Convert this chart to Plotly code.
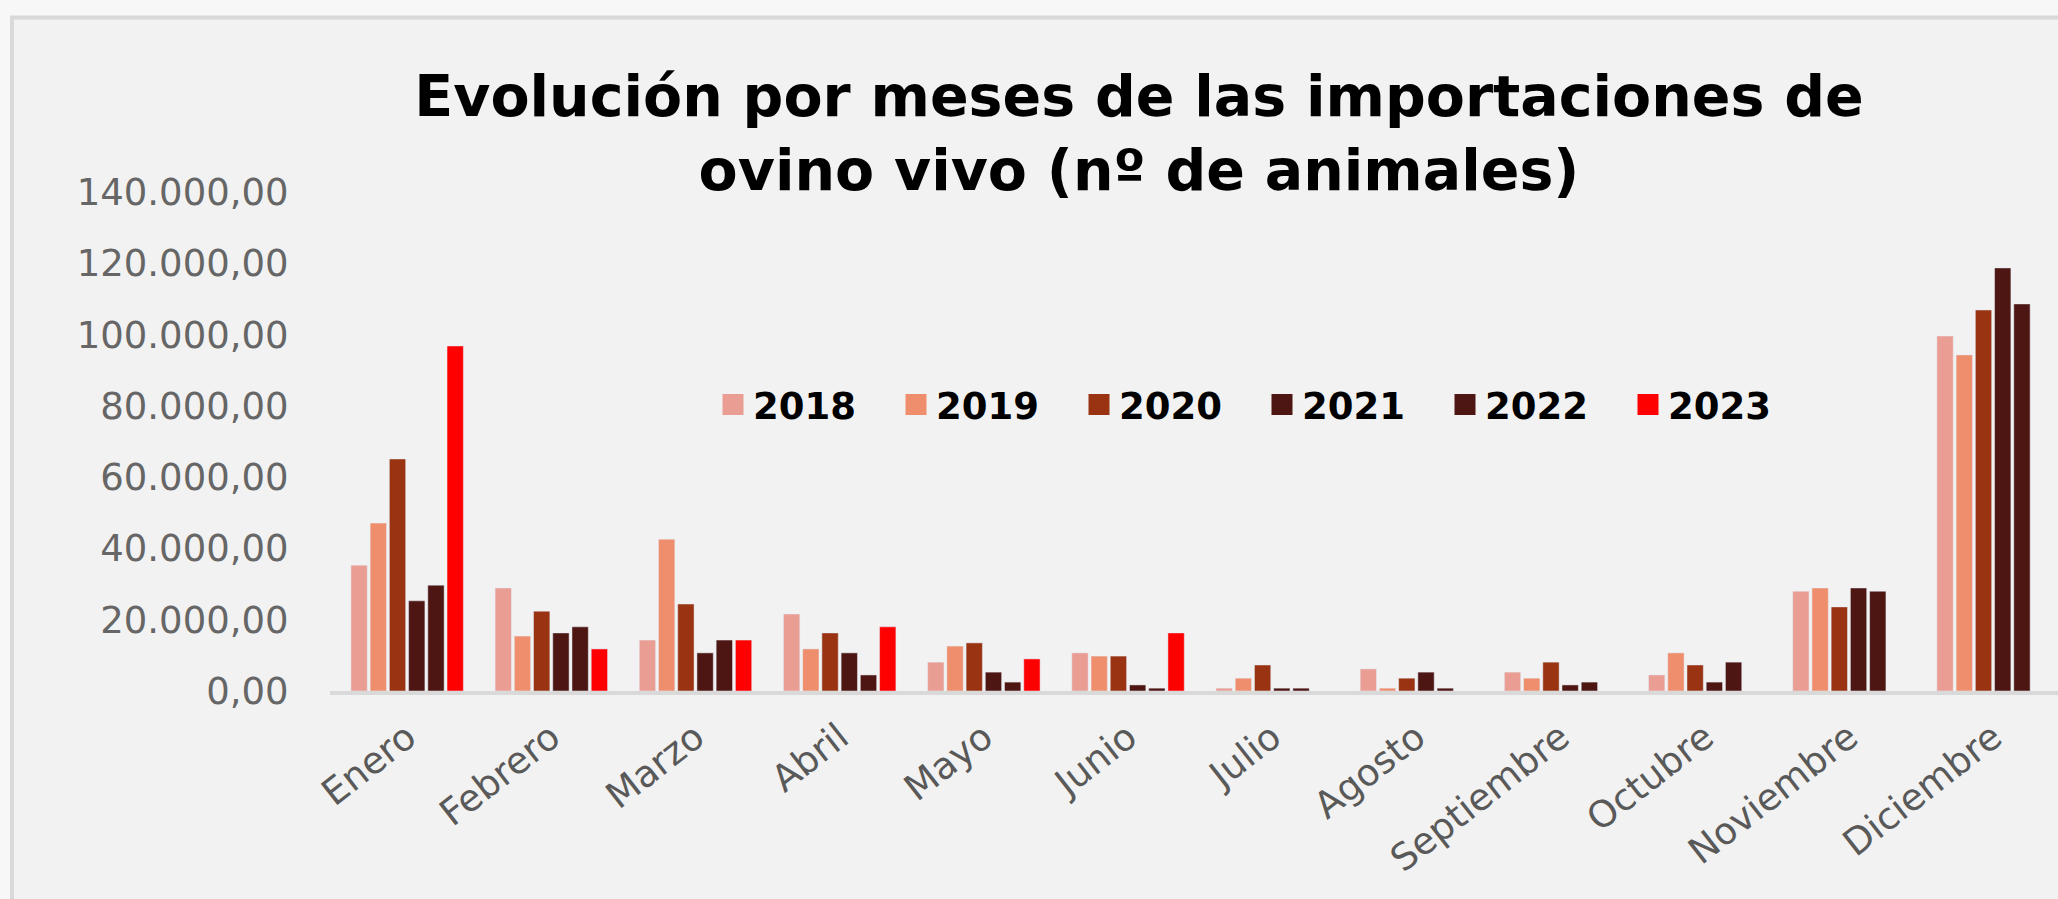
import plotly.graph_objects as go

months = ["Enero", "Febrero", "Marzo", "Abril", "Mayo", "Junio", "Julio",
          "Agosto", "Septiembre", "Octubre", "Noviembre", "Diciembre"]

years = ["2018", "2019", "2020", "2021", "2022", "2023"]

v2018 = [35300, 28900, 14300, 21600, 8100, 10700, 800, 6200, 5300, 4500, 28000, 99600]
v2019 = [47100, 15400, 42600, 11800, 12600, 9800, 3600, 800, 3600, 10700, 28900, 94300]
v2020 = [65100, 22400, 24400, 16300, 13500, 9800, 7300, 3600, 8100, 7300, 23600, 106900]
v2021 = [25300, 16300, 10700, 10700, 5300, 1700, 800, 5300, 1700, 2500, 28900, 118700]
v2022 = [29700, 18000, 14300, 4500, 2500, 800, 800, 800, 2500, 8100, 28000, 108600]
v2023 = [96800, 11800, 14300, 18000, 9000, 16300, None, None, None, None, None, None]

series = [v2018, v2019, v2020, v2021, v2022, v2023]
colors = ["#E99D93", "#EF8E6C", "#993312", "#4D1613", "#4D1613", "#FF0000"]

W, H = 2058, 899
L, R, T, B = 330, 0, 192, 208

fig = go.Figure()

for name, vals, col in zip(years, series, colors):
    fig.add_trace(go.Bar(x=months, y=vals, name=name, marker_color=col,
                         showlegend=False))

# legend entries with larger square swatches
for name, col in zip(years, colors):
    fig.add_trace(go.Scatter(x=[None], y=[None], mode="markers", name=name,
                             marker=dict(symbol="square", size=16, color=col,
                                         line=dict(color=col, width=5))))

pw = W - L - R
ph = H - T - B


def px_x(x):
    return (x - L) / pw


def px_y(y):
    return (H - B - y) / ph


# frame of the chart area
fig.add_shape(type="rect", xref="paper", yref="paper", layer="below",
              x0=px_x(12), x1=px_x(W + 20), y0=px_y(H + 20), y1=px_y(17.5),
              fillcolor="#F2F2F2", line=dict(color="#D9D9D9", width=4))

fig.update_layout(
    width=W, height=H,
    margin=dict(l=L, r=R, t=T, b=B, pad=0, autoexpand=False),
    paper_bgcolor="#F7F7F7",
    plot_bgcolor="#F2F2F2",
    separators=",.",
    barmode="group",
    bargap=0.2,
    bargroupgap=0.15,
    title=dict(
        text="Evolución por meses de las importaciones de<br>ovino vivo (nº de animales)",
        font=dict(family="DejaVu Sans", size=57, color="#000000", weight=700),
        xref="container", x=1139 / W, xanchor="center",
        yref="container", y=1 - 116 / H, yanchor="top",
    ),
    legend=dict(
        orientation="h",
        x=px_x(713), xanchor="left",
        y=px_y(405), yanchor="middle",
        bgcolor="rgba(0,0,0,0)",
        font=dict(family="DejaVu Sans", size=37, color="#000000", weight=700),
        entrywidth=138, entrywidthmode="pixels",
        itemsizing="trace",
    ),
    xaxis=dict(
        type="category",
        range=[-0.535, 11.45],
        automargin=False,
        showgrid=False,
        showline=True, linecolor="#D9D9D9", linewidth=4,
        ticks="",
        tickangle=-38,
        tickfont=dict(family="DejaVu Sans", size=37, color="#595959"),
        ticklabelstandoff=6,
        fixedrange=True,
    ),
    yaxis=dict(
        range=[0, 140000],
        automargin=False,
        tickvals=[0, 20000, 40000, 60000, 80000, 100000, 120000, 140000],
        tickformat=",.2f",
        showgrid=False, zeroline=False, showline=False,
        # invisible ticks keep the labels away from the bars
        ticks="outside", ticklen=33, tickcolor="rgba(0,0,0,0)",
        tickfont=dict(family="DejaVu Sans", size=37, color="#666666"),
    ),
)

fig.write_html("out.html", config={"displayModeBar": False},
               post_script="document.body.style.margin='0';"
                           "document.body.style.overflow='hidden';")
